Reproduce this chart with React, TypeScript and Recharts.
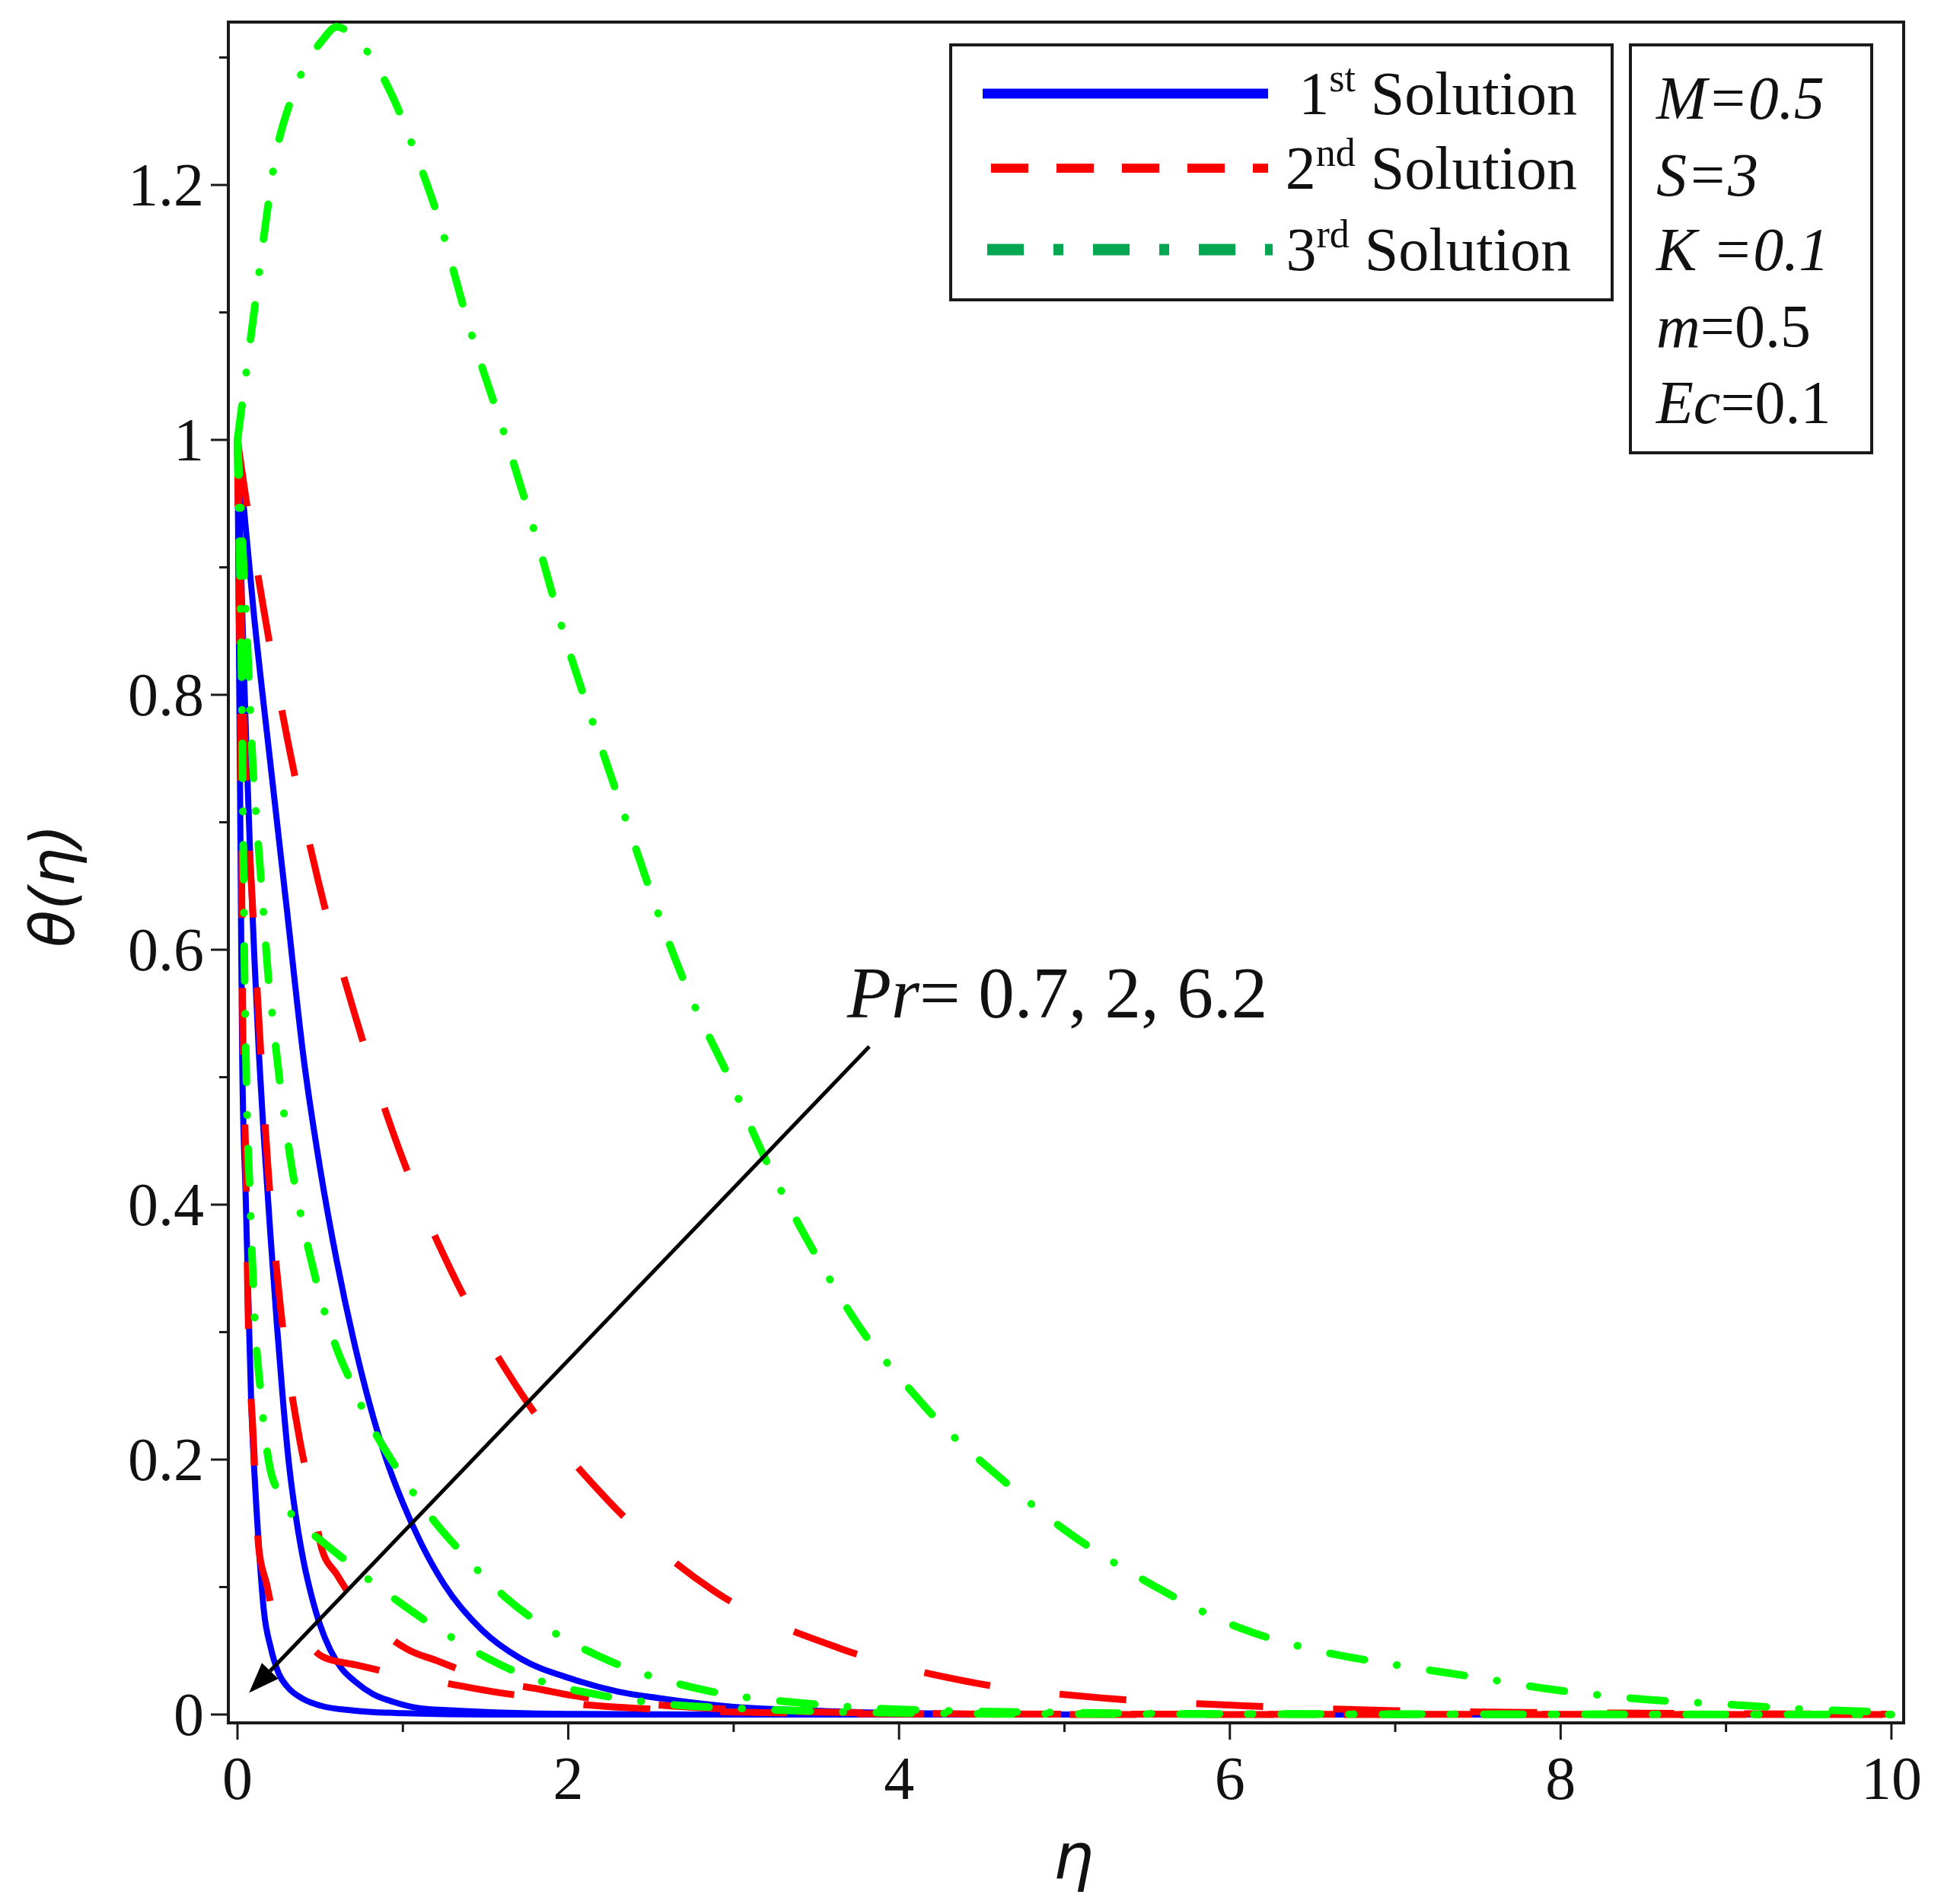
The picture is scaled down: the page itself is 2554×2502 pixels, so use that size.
import React from "react";
import { LineChart, Line, XAxis, YAxis, ReferenceArea, ReferenceLine } from "recharts";

// eta / theta pairs, one array per curve
const sol1Pr07: [number, number][] = [
  [0, 1], [0.1, 0.862], [0.2, 0.745], [0.3, 0.63], [0.4, 0.515], [0.5, 0.428], [0.6, 0.356],
  [0.7, 0.295], [0.8, 0.243], [0.9, 0.2], [1, 0.166], [1.1, 0.137], [1.25, 0.102],
  [1.48, 0.066], [1.71, 0.044], [2.02, 0.028], [2.3, 0.018], [2.54, 0.013], [3, 0.006],
  [3.5, 0.003], [4, 0.001], [5, 0], [10, 0],
];
const sol1Pr2: [number, number][] = [
  [0, 1], [0.02, 0.905], [0.04, 0.815], [0.06, 0.735], [0.08, 0.663], [0.1, 0.6],
  [0.129, 0.52], [0.16, 0.452], [0.2, 0.375], [0.24, 0.303], [0.276, 0.245], [0.31, 0.198],
  [0.35, 0.158], [0.4, 0.12], [0.45, 0.092], [0.5, 0.07], [0.56, 0.051], [0.63, 0.036],
  [0.71, 0.026], [0.82, 0.016], [0.94, 0.01], [1.1, 0.005], [1.33, 0.003], [2, 0.0005],
  [3, 0], [10, 0],
];
const sol1Pr62: [number, number][] = [
  [0, 1], [0.01, 0.82], [0.02, 0.65], [0.029, 0.51], [0.05, 0.405], [0.065, 0.33],
  [0.083, 0.245], [0.1, 0.195], [0.115, 0.161], [0.13, 0.13], [0.16, 0.081], [0.2, 0.053],
  [0.25, 0.032], [0.3, 0.022], [0.4, 0.012], [0.5, 0.007], [0.71, 0.003], [1, 0.001],
  [1.5, 0], [10, 0],
];
const sol2Pr07: [number, number][] = [
  [0, 1], [0.05, 0.955], [0.16, 0.866], [0.31, 0.76], [0.49, 0.653], [0.71, 0.549],
  [0.97, 0.446], [1.3, 0.346], [1.72, 0.251], [2.24, 0.168], [2.88, 0.097], [3.64, 0.052],
  [4.45, 0.025], [5.27, 0.0125], [6.06, 0.007], [7, 0.003], [8, 0.0015], [9, 0.0007],
  [10, 0.0003],
];
const sol2Pr2: [number, number][] = [
  [0, 1], [0.02, 0.88], [0.04, 0.77], [0.086, 0.647], [0.132, 0.539], [0.184, 0.43],
  [0.258, 0.322], [0.377, 0.215], [0.45, 0.17], [0.51, 0.13], [0.6, 0.11], [0.7, 0.09],
  [0.85, 0.068], [1.03, 0.051], [1.21, 0.042], [1.39, 0.033], [1.6, 0.025], [1.82, 0.02],
  [2.02, 0.015], [2.5, 0.008], [3, 0.004], [3.5, 0.002], [4, 0.001], [5, 0], [10, 0],
];
const sol2Pr62: [number, number][] = [
  [0, 1], [0.005, 0.93], [0.012, 0.85], [0.02, 0.75], [0.026, 0.645], [0.032, 0.54],
  [0.051, 0.43], [0.063, 0.322], [0.097, 0.214], [0.129, 0.13], [0.175, 0.103],
  [0.22, 0.079], [0.3, 0.07], [0.4, 0.058], [0.52, 0.045], [0.713, 0.039], [0.92, 0.033],
  [1.2, 0.026], [1.54, 0.018], [1.75, 0.014], [2, 0.009], [2.4, 0.005], [3, 0.002],
  [4, 0.0005], [10, 0],
];
const sol3Pr07: [number, number][] = [
  [0, 1], [0.05, 1.05], [0.1, 1.1], [0.16, 1.16], [0.22, 1.215], [0.33, 1.269], [0.4, 1.291],
  [0.51, 1.313], [0.6, 1.324], [0.7, 1.317], [0.82, 1.298], [0.96, 1.263], [1.07, 1.227],
  [1.2, 1.18], [1.41, 1.085], [1.63, 0.998], [1.81, 0.922], [1.98, 0.845], [2.17, 0.77],
  [2.37, 0.694], [2.57, 0.619], [2.75, 0.56], [2.96, 0.503], [3.18, 0.439], [3.49, 0.362],
  [3.81, 0.295], [4, 0.265], [4.26, 0.227], [4.6, 0.187], [5, 0.145], [5.5, 0.104],
  [6.06, 0.068], [6.5, 0.051], [7, 0.039], [7.5, 0.029], [7.93, 0.02], [8.5, 0.012],
  [9, 0.008], [9.5, 0.004], [10, 0.002],
];
const sol3Pr2: [number, number][] = [
  [0, 1], [0.03, 0.92], [0.06, 0.84], [0.093, 0.744], [0.114, 0.703], [0.137, 0.664],
  [0.16, 0.624], [0.183, 0.584], [0.213, 0.546], [0.25, 0.503], [0.29, 0.463], [0.33, 0.428],
  [0.37, 0.4], [0.41, 0.376], [0.45, 0.354], [0.5, 0.328], [0.54, 0.31], [0.6, 0.287],
  [0.7, 0.257], [0.77, 0.236], [0.85, 0.217], [0.99, 0.188], [1.09, 0.169], [1.2, 0.15],
  [1.37, 0.125], [1.49, 0.108], [1.62, 0.092], [1.82, 0.072], [1.97, 0.06], [2.25, 0.042],
  [2.83, 0.019], [3.5, 0.008], [4, 0.004], [5, 0.0015], [6, 0.0005], [10, 0],
];
const sol3Pr62: [number, number][] = [
  [0, 1], [0.01, 0.93], [0.02, 0.86], [0.028, 0.78], [0.035, 0.68], [0.042, 0.59],
  [0.052, 0.51], [0.058, 0.47], [0.075, 0.41], [0.085, 0.37], [0.095, 0.34], [0.106, 0.305],
  [0.12, 0.28], [0.143, 0.25], [0.16, 0.226], [0.19, 0.198], [0.258, 0.172], [0.36, 0.152],
  [0.5, 0.137], [0.7, 0.116], [0.83, 0.102], [0.98, 0.088], [1.19, 0.069], [1.34, 0.057],
  [1.5, 0.045], [1.73, 0.031], [1.89, 0.024], [2.2, 0.015], [2.6, 0.008], [3, 0.005],
  [3.5, 0.0025], [4, 0.0012], [5, 0.0004], [10, 0],
];

const xTicks = [0, 1, 2, 3, 4, 5, 6, 7, 8, 9, 10];
const xTickLabels = ["0", "", "2", "", "4", "", "6", "", "8", "", "10"];
const yTicks = [0, 0.1, 0.2, 0.3, 0.4, 0.5, 0.6, 0.7, 0.8, 0.9, 1, 1.1, 1.2, 1.3];
const yTickLabels = ["0", "", "0.2", "", "0.4", "", "0.6", "", "0.8", "", "1", "", "1.2", ""];

// arrow for the Pr annotation (tail, head) in data units
const arrowTail = [3.82, 0.524];
const arrowHead = [0.07, 0.017];

const X_MIN = -0.0552;
const X_MAX = 10.074;
const Y_MIN = -0.00657;
const Y_MAX = 1.3278;

const SERIF = '"Liberation Serif", "Times New Roman", serif';
const SANS = '"DejaVu Sans", sans-serif';
const BLUE = "#0000ff";
const RED = "#ff0000";
const GREEN = "#00ff00";
const INK = "#1a1a1a";

const pts = (arr: [number, number][]) => arr.map(([x, y]) => ({ x, y }));

const XTick = (p: any) => {
  const i = xTicks.indexOf(p.payload.value);
  const label = xTickLabels[i];
  return (
    <g>
      <line x1={p.x} y1={p.y} x2={p.x} y2={p.y + (label ? 22 : 12)} stroke={INK} strokeWidth={3} />
      {label && (
        <text x={p.x} y={p.y + 100} textAnchor="middle" fontFamily={SERIF} fontSize={80} fill="#111">
          {label}
        </text>
      )}
    </g>
  );
};

const YTick = (p: any) => {
  const i = yTicks.findIndex((t) => Math.abs(t - p.payload.value) < 1e-9);
  const label = yTickLabels[i];
  return (
    <g>
      <line x1={p.x - (label ? 23 : 12)} y1={p.y} x2={p.x} y2={p.y} stroke={INK} strokeWidth={3} />
      {label && (
        <text x={p.x - 32} y={p.y + 27} textAnchor="end" fontFamily={SERIF} fontSize={80} fill="#111">
          {label}
        </text>
      )}
    </g>
  );
};

const Arrow = (p: any) => {
  const { x1, y1, x2, y2 } = p;
  const a = Math.atan2(y2 - y1, x2 - x1);
  const len = 40;
  const hw = 15;
  const bx = x2 - len * Math.cos(a);
  const by = y2 - len * Math.sin(a);
  const nx = -Math.sin(a) * hw;
  const ny = Math.cos(a) * hw;
  return (
    <g>
      <line x1={x1} y1={y1} x2={bx} y2={by} stroke="#000" strokeWidth={5} />
      <polygon points={`${x2},${y2} ${bx + nx},${by + ny} ${bx - nx},${by - ny}`} fill="#000" />
    </g>
  );
};

const txt = (extra: React.CSSProperties): React.CSSProperties => ({
  position: "absolute",
  fontFamily: SERIF,
  fontSize: 80,
  lineHeight: "80px",
  whiteSpace: "nowrap",
  color: "#111",
  ...extra,
});

const sup: React.CSSProperties = { fontSize: 52, position: "relative", top: -30, verticalAlign: "baseline" };

export default function App() {
  const lineCommon = { type: "monotone" as const, dataKey: "y", dot: false, isAnimationActive: false, strokeWidth: 8 };
  const dashRed = "88 92";
  const dashGreen = "46 43 0.5 43.5";

  return (
    <div style={{ position: "absolute", left: 0, top: 0, width: 2554, height: 2502, background: "#fff" }}>
      <LineChart width={2554} height={2502} margin={{ top: 29, right: 53, bottom: 138, left: 180 }}>
        <XAxis
          type="number"
          dataKey="x"
          domain={[X_MIN, X_MAX]}
          ticks={xTicks}
          interval={0}
          allowDataOverflow
          height={100}
          axisLine={false}
          tickLine={false}
          tickSize={0}
          tickMargin={0}
          tick={<XTick />}
        />
        <YAxis
          type="number"
          domain={[Y_MIN, Y_MAX]}
          ticks={yTicks}
          interval={0}
          allowDataOverflow
          width={120}
          axisLine={false}
          tickLine={false}
          tickSize={0}
          tickMargin={0}
          tick={<YTick />}
        />
        <ReferenceArea x1={X_MIN} x2={X_MAX} y1={Y_MIN} y2={Y_MAX} fill="none" stroke={INK} strokeWidth={4} fillOpacity={0} ifOverflow="visible" />

        <Line {...lineCommon} data={pts(sol1Pr07)} stroke={BLUE} />
        <Line {...lineCommon} data={pts(sol1Pr2)} stroke={BLUE} />
        <Line {...lineCommon} data={pts(sol1Pr62)} stroke={BLUE} />

        <Line {...lineCommon} data={pts(sol2Pr07)} stroke={RED} strokeWidth={9} strokeDasharray={dashRed} />
        <Line {...lineCommon} data={pts(sol2Pr2)} stroke={RED} strokeWidth={9} strokeDasharray={dashRed} />
        <Line {...lineCommon} data={pts(sol2Pr62)} stroke={RED} strokeWidth={9} strokeDasharray={dashRed} />

        <Line {...lineCommon} data={pts(sol3Pr62)} stroke={GREEN} strokeWidth={10} strokeLinecap="round" strokeDasharray={dashGreen} />
        <Line {...lineCommon} data={pts(sol3Pr2)} stroke={GREEN} strokeWidth={10} strokeLinecap="round" strokeDasharray={dashGreen} />
        <Line {...lineCommon} data={pts(sol3Pr07)} stroke={GREEN} strokeWidth={10} strokeLinecap="round" strokeDasharray={dashGreen} />

        <ReferenceLine
          segment={[
            { x: arrowTail[0], y: arrowTail[1] },
            { x: arrowHead[0], y: arrowHead[1] },
          ]}
          shape={<Arrow />}
        />
      </LineChart>

      {/* axis titles */}
      <div style={{ position: "absolute", left: 70, top: 1164, transform: "translate(-50%, -50%) rotate(-90deg)", fontFamily: SANS, fontStyle: "italic", fontSize: 80, lineHeight: "80px", whiteSpace: "nowrap", color: "#111" }}>
        θ(η)
      </div>
      <div style={{ position: "absolute", left: 1410, top: 2440, transform: "translate(-50%, -50%)", fontFamily: SANS, fontStyle: "italic", fontSize: 84, lineHeight: "84px", color: "#111" }}>
        η
      </div>

      {/* Pr annotation */}
      <div style={txt({ left: 1113, top: 1258, fontSize: 95, lineHeight: "95px" })}>
        <i>Pr</i>= 0.7, 2, 6.2
      </div>

      {/* legend */}
      <div style={{ position: "absolute", left: 1247, top: 57, width: 873, height: 339, border: `4px solid ${INK}`, boxSizing: "border-box", background: "#fff" }}>
        <svg width={873} height={339} style={{ position: "absolute", left: -4, top: -4 }}>
          <line x1={44} y1={66} x2={419} y2={66} stroke={BLUE} strokeWidth={13} />
          <line x1={55} y1={164} x2={419} y2={164} stroke={RED} strokeWidth={12} strokeDasharray="49 37" />
          <line x1={50} y1={271} x2={425} y2={271} stroke="#00a650" strokeWidth={15} strokeDasharray="48 39 13 39" />
        </svg>
        <div style={txt({ right: 44, top: 22 })}>
          1<span style={sup}>st</span> Solution
        </div>
        <div style={txt({ right: 44, top: 120 })}>
          2<span style={sup}>nd</span> Solution
        </div>
        <div style={txt({ right: 52, top: 227 })}>
          3<span style={sup}>rd</span> Solution
        </div>
      </div>

      {/* parameter box */}
      <div style={{ position: "absolute", left: 2140, top: 57, width: 321, height: 540, border: `4px solid ${INK}`, boxSizing: "border-box", background: "#fff" }}>
        <div style={txt({ left: 32, top: 28 })}><i>M=0.5</i></div>
        <div style={txt({ left: 32, top: 129 })}><i>S=3</i></div>
        <div style={txt({ left: 32, top: 227 })}><i>K =0.1</i></div>
        <div style={txt({ left: 32, top: 328 })}><i>m</i>=0.5</div>
        <div style={txt({ left: 32, top: 428 })}><i>Ec</i>=0.1</div>
      </div>
    </div>
  );
}
